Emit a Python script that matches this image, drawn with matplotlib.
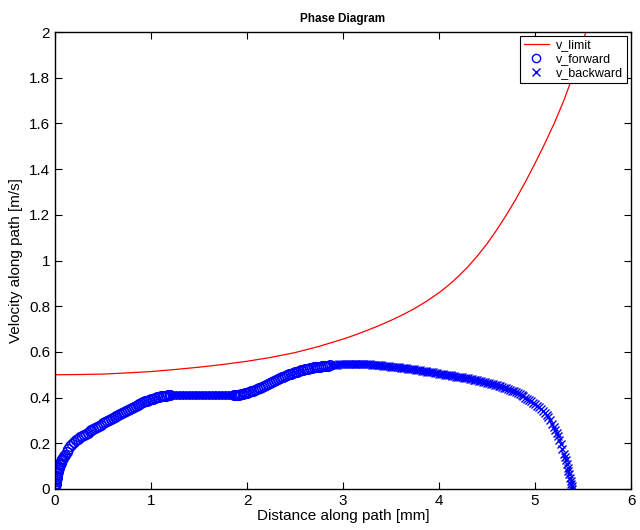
import numpy as np
import matplotlib
matplotlib.use('Agg')
import matplotlib.pyplot as plt

plt.rcParams['font.family'] = ['Liberation Sans', 'DejaVu Sans']

# v_limit curve
limit_s = [0, 0.25, 0.5, 0.75, 1.0, 1.25, 1.5, 1.75, 2.0, 2.25, 2.5, 2.75, 3.0, 3.125, 3.25,
           3.375, 3.5, 3.625, 3.75, 3.875, 4.0, 4.1, 4.2, 4.3, 4.4, 4.5, 4.6, 4.7, 4.8, 4.9,
           5.0, 5.1, 5.2, 5.3, 5.37, 5.43, 5.48, 5.53]
limit_v = [0.5, 0.501, 0.503, 0.508, 0.514, 0.523, 0.533, 0.545, 0.559, 0.576, 0.597, 0.624,
           0.656, 0.674, 0.694, 0.715, 0.738, 0.763, 0.791, 0.823, 0.859, 0.892, 0.93, 0.972,
           1.02, 1.073, 1.133, 1.198, 1.268, 1.344, 1.425, 1.51, 1.6, 1.7, 1.78, 1.86, 1.93, 2.0]

# forward integration (circles)
fwd1_s = [0, 0.002, 0.004, 0.006, 0.008, 0.01, 0.013, 0.016, 0.02, 0.025, 0.03, 0.035, 0.04,
          0.045, 0.05, 0.055, 0.06, 0.065, 0.07, 0.075, 0.08, 0.09, 0.1,
          0.12, 0.14, 0.16, 0.18, 0.2, 0.22, 0.24, 0.26, 0.28, 0.3, 0.32, 0.34, 0.36, 0.38,
          0.4, 0.42, 0.44, 0.46, 0.48, 0.5, 0.52, 0.54, 0.56, 0.58, 0.6, 0.62, 0.64, 0.66,
          0.68, 0.7, 0.72, 0.74, 0.76, 0.78, 0.8, 0.82, 0.84, 0.86, 0.88, 0.9, 0.92, 0.94,
          0.96, 0.98, 1.0, 1.02, 1.04, 1.06, 1.08, 1.1, 1.12, 1.14, 1.16, 1.18, 1.2]
fwd1_v = [0, 0.009, 0.016, 0.022, 0.028, 0.035, 0.042, 0.049, 0.057, 0.066, 0.075, 0.082, 0.09,
          0.096, 0.103, 0.109, 0.115, 0.121, 0.126, 0.131, 0.135, 0.143, 0.15,
          0.161, 0.174, 0.188, 0.199, 0.207, 0.214, 0.221, 0.227, 0.232, 0.237, 0.242, 0.247,
          0.252, 0.257, 0.262, 0.267, 0.272, 0.277, 0.282, 0.287, 0.292, 0.296, 0.3, 0.305,
          0.31, 0.315, 0.319, 0.324, 0.328, 0.333, 0.337, 0.341, 0.345, 0.35, 0.355, 0.358,
          0.362, 0.366, 0.371, 0.375, 0.379, 0.383, 0.387, 0.39, 0.393, 0.396, 0.399, 0.401,
          0.403, 0.405, 0.407, 0.408, 0.409, 0.41, 0.411]
fwd2_s = [1.86, 1.88, 1.9, 1.92, 1.94, 1.96, 1.98, 2.0, 2.02, 2.04, 2.06, 2.08, 2.1, 2.12, 2.14,
          2.16, 2.18, 2.2, 2.22, 2.24, 2.26, 2.28, 2.3, 2.32, 2.34, 2.36, 2.38, 2.4, 2.42,
          2.44, 2.46, 2.48, 2.5, 2.52, 2.54, 2.56, 2.58, 2.6, 2.62, 2.64, 2.66, 2.68, 2.7,
          2.72, 2.74, 2.76, 2.78, 2.8, 2.82, 2.84, 2.86]
fwd2_v = [0.411, 0.411, 0.412, 0.413, 0.414, 0.416, 0.418, 0.421, 0.424, 0.427, 0.43, 0.433,
          0.437, 0.44, 0.444, 0.448, 0.452, 0.456, 0.46, 0.464, 0.468, 0.473, 0.477, 0.481,
          0.485, 0.489, 0.492, 0.496, 0.499, 0.502, 0.505, 0.508, 0.511, 0.514, 0.516, 0.519,
          0.521, 0.523, 0.525, 0.527, 0.529, 0.531, 0.532, 0.534, 0.535, 0.536, 0.537, 0.538,
          0.539, 0.54, 0.541]

# backward integration (crosses)
bwd1_s = [1.2, 1.215, 1.23, 1.245, 1.26, 1.275, 1.29, 1.305, 1.32, 1.335, 1.35, 1.365, 1.38,
          1.395, 1.41, 1.425, 1.44, 1.455, 1.47, 1.485, 1.5, 1.515, 1.53, 1.545, 1.56, 1.575,
          1.59, 1.605, 1.62, 1.635, 1.65, 1.665, 1.68, 1.695, 1.71, 1.725, 1.74, 1.755, 1.77,
          1.785, 1.8, 1.815, 1.83, 1.845, 1.86]
bwd1_v = [0.411, 0.411, 0.411, 0.411, 0.411, 0.411, 0.411, 0.411, 0.411, 0.411, 0.411, 0.411,
          0.411, 0.411, 0.411, 0.411, 0.411, 0.411, 0.411, 0.411, 0.411, 0.411, 0.411, 0.411,
          0.411, 0.411, 0.411, 0.411, 0.411, 0.411, 0.411, 0.411, 0.411, 0.411, 0.411, 0.411,
          0.411, 0.411, 0.411, 0.411, 0.411, 0.411, 0.411, 0.411, 0.411]
bwd2_s = [2.86, 2.88, 2.9, 2.92, 2.94, 2.96, 2.98, 3.0, 3.02, 3.04, 3.06, 3.08, 3.1, 3.12, 3.14,
          3.16, 3.18, 3.2, 3.22, 3.24, 3.26, 3.28, 3.3, 3.32, 3.34, 3.36, 3.38, 3.4, 3.42,
          3.44, 3.46, 3.48, 3.5, 3.52, 3.54, 3.56, 3.58, 3.6, 3.62, 3.64, 3.66, 3.68, 3.7,
          3.72, 3.74, 3.76, 3.78, 3.8, 3.82, 3.84, 3.86, 3.88, 3.9, 3.92, 3.94, 3.96, 3.98,
          4.0, 4.02, 4.04, 4.06, 4.08, 4.1, 4.12, 4.14, 4.16, 4.18, 4.2, 4.22, 4.24, 4.26,
          4.28, 4.3, 4.32, 4.34, 4.36, 4.38, 4.4, 4.42, 4.44, 4.46, 4.48, 4.5, 4.52, 4.54,
          4.56, 4.58, 4.6, 4.62, 4.64, 4.66, 4.68, 4.7, 4.72, 4.74, 4.76, 4.78, 4.8, 4.82,
          4.84, 4.86, 4.88, 4.9, 4.92, 4.94, 4.96, 4.98, 5.0, 5.02, 5.04, 5.06, 5.08, 5.1,
          5.12, 5.14, 5.16, 5.18, 5.195, 5.21, 5.225, 5.24, 5.255, 5.27, 5.285, 5.3, 5.31,
          5.32, 5.33, 5.34, 5.348, 5.355, 5.363, 5.37, 5.376, 5.382, 5.39]
bwd2_v = [0.541, 0.542, 0.543, 0.543, 0.544, 0.545, 0.545, 0.546, 0.546, 0.546, 0.547, 0.547,
          0.547, 0.547, 0.547, 0.547, 0.547, 0.546, 0.546, 0.546, 0.545, 0.545, 0.544, 0.544,
          0.543, 0.542, 0.542, 0.541, 0.54, 0.539, 0.538, 0.537, 0.536, 0.535, 0.534, 0.533,
          0.532, 0.531, 0.53, 0.529, 0.528, 0.526, 0.525, 0.524, 0.523, 0.522, 0.52, 0.519,
          0.518, 0.517, 0.515, 0.514, 0.513, 0.511, 0.51, 0.508, 0.507, 0.505, 0.504, 0.502,
          0.501, 0.5, 0.498, 0.497, 0.495, 0.494, 0.492, 0.491, 0.489, 0.488, 0.487, 0.485,
          0.484, 0.482, 0.481, 0.479, 0.477, 0.476, 0.474, 0.472, 0.47, 0.468, 0.466, 0.464,
          0.461, 0.459, 0.457, 0.454, 0.451, 0.449, 0.446, 0.443, 0.44, 0.437, 0.434, 0.431,
          0.427, 0.423, 0.419, 0.415, 0.41, 0.405, 0.4, 0.395, 0.39, 0.384, 0.378, 0.371,
          0.364, 0.357, 0.349, 0.341, 0.333, 0.324, 0.313, 0.3, 0.285, 0.273, 0.26, 0.246,
          0.232, 0.214, 0.195, 0.175, 0.155, 0.14, 0.125, 0.109, 0.093, 0.079, 0.065, 0.05,
          0.035, 0.022, 0.011, 0.0]

fig = plt.figure(figsize=(6.4, 5.3), dpi=100)
ax = fig.add_axes([55/640., 41/530., 576/640., 457/530.])

ax.plot(limit_s, limit_v, 'r-', lw=0.9, label='v_limit')
ax.plot(fwd1_s, fwd1_v, 'o', color='b', mfc='none', ms=7, mew=1.0, label='v_forward')
ax.plot(fwd2_s, fwd2_v, 'o', color='b', mfc='none', ms=7, mew=1.0)
ax.plot(bwd1_s, bwd1_v, 'x', color='b', ms=6, mew=1.0, label='v_backward')
ax.plot(bwd2_s, bwd2_v, 'x', color='b', ms=6, mew=1.0)

ax.set_xlim(0, 6)
ax.set_ylim(0, 2)
ax.set_xticks(np.arange(0, 7, 1))
ax.set_yticks(np.arange(0, 2.01, 0.2))
ax.set_yticklabels(['0', '0.2', '0.4', '0.6', '0.8', '1', '1.2', '1.4', '1.6', '1.8', '2'])
ax.tick_params(direction='in', top=True, right=True, labelsize=11, length=5)
for sp in ax.spines.values():
    sp.set_linewidth(1.0)

ax.set_xlabel('Distance along path [mm]', fontsize=11, labelpad=1)
ax.set_ylabel('Velocity along path [m/s]', fontsize=11, labelpad=4)
ax.set_title('Phase Diagram', fontsize=8.5, fontweight='bold', pad=7)

leg = ax.legend(loc='upper right', fontsize=9, fancybox=False, framealpha=1,
                edgecolor='black', borderaxespad=0.3, handlelength=2.0,
                handletextpad=0.6, labelspacing=0.15, borderpad=0.3, markerscale=0.85)
leg.get_frame().set_linewidth(0.8)

fig.savefig('out.png', dpi=100)
